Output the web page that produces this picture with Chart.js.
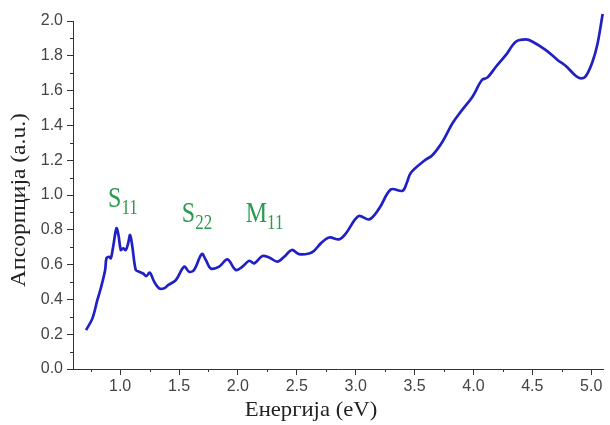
<!DOCTYPE html>
<html>
<head>
<meta charset="utf-8">
<script src="https://cdn.jsdelivr.net/npm/chart.js@4/dist/chart.umd.min.js"></script>
<style>
  html, body { margin: 0; padding: 0; background: #fff; }
  #wrap { width: 610px; height: 425px; position: relative; }
</style>
</head>
<body>
<div id="wrap"><canvas id="c" width="610" height="425"></canvas></div>
<script>
// Absorption spectrum: photon energy (eV) vs absorbance (a.u.)
const energy = [
  0.711, 0.765, 0.807, 0.836, 0.873, 0.884, 0.907, 0.921, 0.941, 0.969,
  0.986, 1.006, 1.025, 1.048, 1.068, 1.085, 1.104, 1.133, 1.161, 1.195,
  1.223, 1.252, 1.289, 1.331, 1.374, 1.410, 1.473, 1.544, 1.586, 1.628,
  1.694, 1.728, 1.770, 1.841, 1.911, 1.983, 2.039, 2.096, 2.138, 2.208,
  2.265, 2.336, 2.393, 2.458, 2.520, 2.605, 2.648, 2.704, 2.775, 2.860,
  2.917, 3.024, 3.115, 3.200, 3.299, 3.398, 3.432, 3.469, 3.582, 3.653,
  3.737, 3.822, 3.893, 3.992, 4.072, 4.120, 4.191, 4.276, 4.360, 4.445,
  4.502, 4.615, 4.714, 4.785, 4.870, 4.913, 4.955, 5.011, 5.054, 5.097
];
const absorbance = [
  0.224, 0.291, 0.397, 0.464, 0.569, 0.636, 0.645, 0.636, 0.703, 0.808,
  0.770, 0.684, 0.694, 0.684, 0.722, 0.770, 0.703, 0.569, 0.559, 0.549,
  0.534, 0.554, 0.502, 0.464, 0.464, 0.483, 0.511, 0.588, 0.559, 0.569,
  0.661, 0.626, 0.578, 0.588, 0.630, 0.569, 0.588, 0.622, 0.607, 0.649,
  0.641, 0.617, 0.645, 0.684, 0.660, 0.664, 0.680, 0.722, 0.756, 0.745,
  0.779, 0.879, 0.860, 0.923, 1.032, 1.024, 1.066, 1.128, 1.197, 1.230,
  1.306, 1.412, 1.479, 1.565, 1.661, 1.676, 1.737, 1.805, 1.881, 1.894,
  1.881, 1.833, 1.776, 1.741, 1.684, 1.670, 1.684, 1.766, 1.871, 2.040
];

// Axis ticks
const xTicks = [1.0, 1.5, 2.0, 2.5, 3.0, 3.5, 4.0, 4.5, 5.0];
const xMinorTicks = [0.75, 1.25, 1.75, 2.25, 2.75, 3.25, 3.75, 4.25, 4.75];
const yTicks = [0.0, 0.2, 0.4, 0.6, 0.8, 1.0, 1.2, 1.4, 1.6, 1.8, 2.0];
const yMinorTicks = [0.1, 0.3, 0.5, 0.7, 0.9, 1.1, 1.3, 1.5, 1.7, 1.9];

// Peak labels: main letter, subscript, anchor (energy, absorbance)
const peakNames = ['S', 'S', 'M'];
const peakSubs = ['11', '22', '11'];
const peakEnergy = [0.898, 1.524, 2.067];
const peakLevel = [0.933, 0.847, 0.847];

const xTitle = 'Енергија (eV)';
const yTitle = 'Апсорпција (a.u.)';

const axisColor = '#333333';
const tickFont = { family: 'Liberation Sans, Arial, sans-serif', size: 16 };
const titleFontFamily = '"Liberation Serif", "Times New Roman", serif';

const points = energy.map((e, i) => ({ x: e, y: absorbance[i] }));

// Minor ticks, axis titles and peak labels
const extras = {
  id: 'extras',
  afterDraw(chart) {
    const ctx = chart.ctx;
    const xs = chart.scales.x, ys = chart.scales.y;
    const area = chart.chartArea;
    ctx.save();
    ctx.strokeStyle = axisColor;
    ctx.lineWidth = 1;
    ctx.beginPath();
    xMinorTicks.forEach(v => {
      const px = Math.round(xs.getPixelForValue(v)) + 0.5;
      ctx.moveTo(px, area.bottom);
      ctx.lineTo(px, area.bottom + 3);
    });
    yMinorTicks.forEach(v => {
      const py = Math.round(ys.getPixelForValue(v)) + 0.5;
      ctx.moveTo(area.left, py);
      ctx.lineTo(area.left - 3, py);
    });
    ctx.stroke();

    // axis titles
    ctx.fillStyle = '#222';
    ctx.font = '21px ' + titleFontFamily;
    ctx.textAlign = 'center';
    ctx.textBaseline = 'alphabetic';
    ctx.save();
    ctx.translate(311, 416);
    ctx.scale(1.08, 1);
    ctx.fillText(xTitle, 0, 0);
    ctx.restore();

    ctx.save();
    ctx.translate(25, 200);
    ctx.rotate(-Math.PI / 2);
    ctx.scale(1.12, 1);
    ctx.fillText(yTitle, 0, 0);
    ctx.restore();

    // peak labels
    ctx.fillStyle = '#2a9a4c';
    ctx.textAlign = 'left';
    peakNames.forEach((name, i) => {
      const px = xs.getPixelForValue(peakEnergy[i]);
      const py = ys.getPixelForValue(peakLevel[i]);
      ctx.save();
      ctx.translate(px, py);
      ctx.scale(1, 1.2);
      ctx.font = '24px ' + titleFontFamily;
      ctx.fillText(name, 0, 0);
      const w = ctx.measureText(name).width;
      ctx.font = '17px ' + titleFontFamily;
      ctx.fillText(peakSubs[i], w, 6);
      ctx.restore();
    });
    ctx.restore();
  }
};

new Chart(document.getElementById('c'), {
  type: 'line',
  data: {
    datasets: [{
      data: points,
      borderColor: '#2020c4',
      borderWidth: 2.7,
      pointRadius: 0,
      fill: false,
      tension: 0.35,
      clip: false
    }]
  },
  options: {
    responsive: false,
    animation: false,
    devicePixelRatio: 1,
    layout: { padding: { left: 0, right: 7, top: 21, bottom: 0 } },
    plugins: { legend: { display: false }, tooltip: { enabled: false } },
    scales: {
      x: {
        type: 'linear',
        min: 0.6,
        max: 5.1,
        afterBuildTicks: s => { s.ticks = xTicks.map(v => ({ value: v })); },
        afterFit: s => { s.height = 56; },
        ticks: {
          color: '#444',
          font: tickFont,
          padding: 2,
          maxRotation: 0,
          autoSkip: false,
          callback: v => v.toFixed(1)
        },
        grid: {
          drawOnChartArea: false,
          drawTicks: true,
          tickLength: 6,
          tickColor: axisColor
        },
        border: { display: true, color: axisColor, width: 1 }
      },
      y: {
        type: 'linear',
        min: 0,
        max: 2.0,
        afterBuildTicks: s => { s.ticks = yTicks.map(v => ({ value: v })); },
        afterFit: s => { s.width = 73; },
        ticks: {
          color: '#444',
          font: tickFont,
          padding: 4,
          autoSkip: false,
          callback: v => v.toFixed(1)
        },
        grid: {
          drawOnChartArea: false,
          drawTicks: true,
          tickLength: 6,
          tickColor: axisColor
        },
        border: { display: true, color: axisColor, width: 1 }
      }
    }
  },
  plugins: [extras]
});
</script>
</body>
</html>
